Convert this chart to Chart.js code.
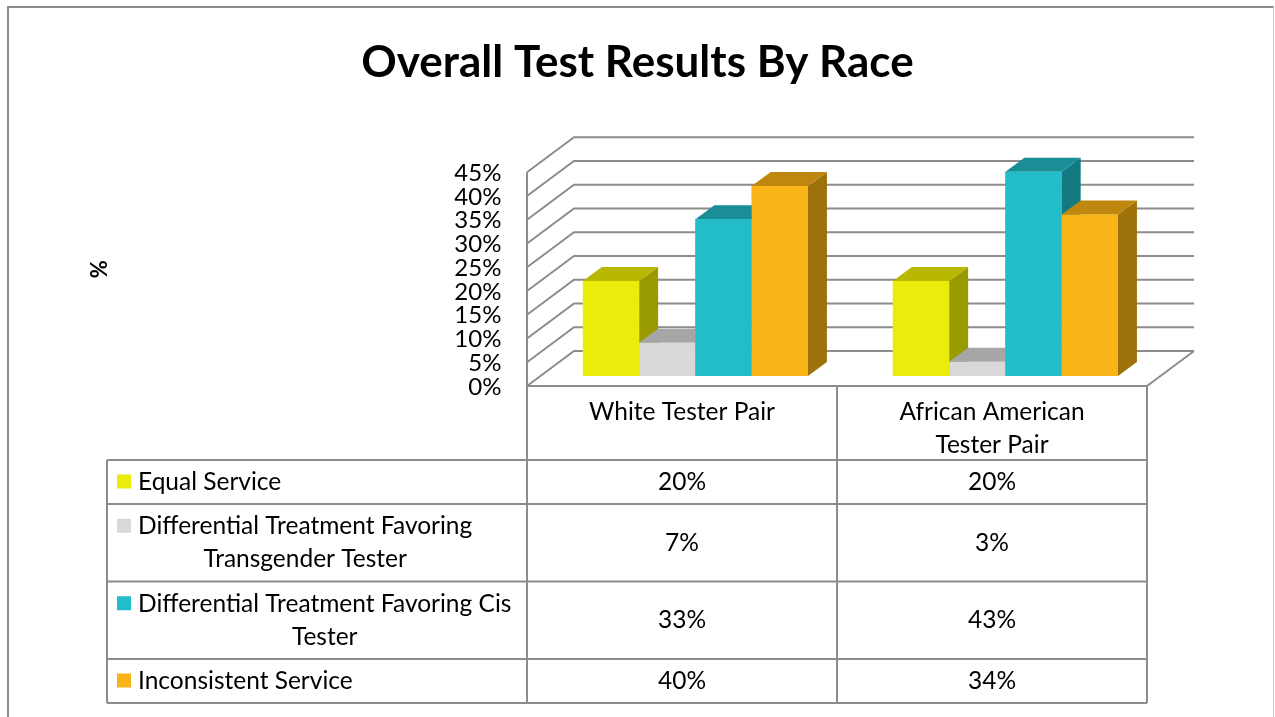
<!DOCTYPE html>
<html>
<head>
<meta charset="utf-8">
<script src="https://cdn.jsdelivr.net/npm/chart.js@4.4.1/dist/chart.umd.min.js"></script>
<style>
  html, body { margin: 0; padding: 0; background: #ffffff; }
  #wrap { position: relative; width: 1275px; height: 717px; }
</style>
</head>
<body>
<div id="wrap"><canvas id="c"></canvas></div>
<script>
// ---------- data ----------
const categories = [['White Tester Pair'], ['African American', 'Tester Pair']];
const seriesNames = [
  ['Equal Service'],
  ['Differential Treatment Favoring', 'Transgender Tester'],
  ['Differential Treatment Favoring Cis', 'Tester'],
  ['Inconsistent Service']
];
const equalService = [20, 20];
const favoringTransgender = [7, 3];
const favoringCis = [33, 43];
const inconsistentService = [40, 34];
const yMin = 0, yMax = 45, yStep = 5;

// ---------- styles ----------
const frontColors = ['#ECEC0C', '#D9D9D9', '#22BDC9', '#F9B418'];
const topColors   = ['#B8B800', '#A6A6A6', '#1A8E97', '#BF870F'];
const sideColors  = ['#999900', '#8C8C8C', '#127A80', '#9E720B'];
const GRID = '#8C8C8C';
const FRONT = { dx: -13.4, dy: 10 };   // front plane relative to bar plane
const BACK  = { dx: 33.6, dy: -25 };   // back wall relative to bar plane
const DEPTH = { dx: 19, dy: -14 };     // bar depth
const FONT = 'Lato';
const TABLE_FONT_SIZE = 24.5;
const TABLE_LEFT = 107;

const allSeries = [equalService, favoringTransgender, favoringCis, inconsistentService];

const threeD = {
  id: 'threeD',
  beforeDatasetsDraw(chart) {
    const { ctx, chartArea: { left, right }, scales: { y } } = chart;
    ctx.save();
    ctx.strokeStyle = GRID;
    ctx.lineWidth = 2;
    ctx.lineJoin = 'miter';
    y.ticks.forEach(t => {
      const py = y.getPixelForValue(t.value);
      ctx.beginPath();
      ctx.moveTo(left + FRONT.dx, py + FRONT.dy);
      ctx.lineTo(left + BACK.dx, py + BACK.dy);
      ctx.lineTo(right + BACK.dx, py + BACK.dy);
      ctx.stroke();
    });
    const y0 = y.getPixelForValue(y.min);
    const yT = y.getPixelForValue(y.max);
    ctx.beginPath();
    ctx.moveTo(left + FRONT.dx, yT + FRONT.dy);
    ctx.lineTo(left + FRONT.dx, y0 + FRONT.dy);
    ctx.lineTo(right + FRONT.dx, y0 + FRONT.dy);
    ctx.lineTo(right + BACK.dx, y0 + BACK.dy);
    ctx.stroke();
    ctx.restore();
  },
  afterDatasetsDraw(chart) {
    const { ctx } = chart;
    const n = chart.data.labels.length;
    ctx.save();
    for (let i = 0; i < n; i++) {
      chart.data.datasets.forEach((ds, d) => {
        const el = chart.getDatasetMeta(d).data[i];
        if (!el) return;
        const w = el.width, l = el.x - w / 2, r = el.x + w / 2, t = el.y, b = el.base;
        ctx.fillStyle = sideColors[d];
        ctx.beginPath();
        ctx.moveTo(r, t); ctx.lineTo(r + DEPTH.dx, t + DEPTH.dy);
        ctx.lineTo(r + DEPTH.dx, b + DEPTH.dy); ctx.lineTo(r, b);
        ctx.closePath(); ctx.fill();
        ctx.fillStyle = topColors[d];
        ctx.beginPath();
        ctx.moveTo(l, t); ctx.lineTo(l + DEPTH.dx, t + DEPTH.dy);
        ctx.lineTo(r + DEPTH.dx, t + DEPTH.dy); ctx.lineTo(r, t);
        ctx.closePath(); ctx.fill();
        ctx.fillStyle = frontColors[d];
        ctx.fillRect(l, t, w, b - t);
      });
    }
    ctx.restore();
  },
  afterDraw(chart) {
    const { ctx, chartArea: { left, right }, scales: { y } } = chart;
    const n = chart.data.labels.length;
    const cw = (right - left) / n;
    const x0 = left + FRONT.dx;
    const xEnd = right + FRONT.dx;
    const headTop = y.getPixelForValue(y.min) + FRONT.dy;
    const lineH = 33;
    const headH = 74;
    const rowTop0 = headTop + headH;
    const rowHeights = chart.data.datasets.map(ds => (ds.lines.length > 1 ? 77.5 : 44));
    const tableBottom = rowTop0 + rowHeights.reduce((a, b) => a + b, 0);

    ctx.save();
    ctx.strokeStyle = GRID;
    ctx.lineWidth = 2;
    for (let i = 0; i <= n; i++) {
      const x = x0 + i * cw;
      ctx.beginPath(); ctx.moveTo(x, headTop); ctx.lineTo(x, tableBottom); ctx.stroke();
    }
    ctx.beginPath(); ctx.moveTo(TABLE_LEFT, rowTop0); ctx.lineTo(TABLE_LEFT, tableBottom); ctx.stroke();
    let yy = rowTop0;
    ctx.beginPath(); ctx.moveTo(TABLE_LEFT, yy); ctx.lineTo(xEnd, yy); ctx.stroke();
    rowHeights.forEach(h => {
      yy += h;
      ctx.beginPath(); ctx.moveTo(TABLE_LEFT, yy); ctx.lineTo(xEnd, yy); ctx.stroke();
    });

    ctx.fillStyle = '#000';
    ctx.font = TABLE_FONT_SIZE + 'px ' + FONT;
    ctx.textBaseline = 'middle';
    ctx.textAlign = 'center';
    chart.data.labels.forEach((lab, i) => {
      const cx = x0 + i * cw + cw / 2;
      const lines = Array.isArray(lab) ? lab : [lab];
      lines.forEach((ln, k) => ctx.fillText(ln, cx, headTop + 26 + k * lineH));
    });
    let rt = rowTop0;
    chart.data.datasets.forEach((ds, d) => {
      const h = rowHeights[d];
      const mid = rt + h / 2;
      const lines = ds.lines;
      const firstY = mid - (lines.length - 1) * lineH / 2;
      ctx.fillStyle = frontColors[d];
      ctx.fillRect(117, firstY - 7.5, 14, 14);
      ctx.fillStyle = '#000';
      if (lines.length === 1) {
        ctx.textAlign = 'left';
        ctx.fillText(lines[0], 138, firstY);
      } else {
        const bw = Math.max(...lines.map(l => ctx.measureText(l).width));
        ctx.textAlign = 'center';
        lines.forEach((ln, k) => ctx.fillText(ln, 138 + bw / 2, firstY + k * lineH));
      }
      ctx.textAlign = 'center';
      ds.data.forEach((v, i) => {
        ctx.fillText(v + '%', x0 + i * cw + cw / 2, mid);
      });
      rt += h;
    });

    ctx.strokeStyle = GRID;
    ctx.lineWidth = 2;
    ctx.beginPath();
    ctx.moveTo(8, 740); ctx.lineTo(8, 7); ctx.lineTo(1274, 7);
    ctx.stroke();
    ctx.strokeStyle = '#C8C8C8';
    ctx.lineWidth = 1;
    ctx.beginPath(); ctx.moveTo(1273.5, 7); ctx.lineTo(1273.5, 717); ctx.stroke();
    ctx.restore();
  }
};

new Chart(document.getElementById('c'), {
  type: 'bar',
  data: {
    labels: categories,
    datasets: allSeries.map((vals, d) => ({
      label: seriesNames[d].join(' '),
      lines: seriesNames[d],
      data: vals,
      backgroundColor: frontColors[d],
      borderWidth: 0,
      barPercentage: 1,
      categoryPercentage: 0.726
    }))
  },
  options: {
    responsive: true,
    maintainAspectRatio: false,
    animation: false,
    layout: { padding: { top: 0, left: 0, right: 0, bottom: 341 } },
    plugins: {
      legend: { display: false },
      tooltip: { enabled: false },
      title: {
        display: true,
        text: 'Overall Test Results By Race',
        color: '#000',
        font: { family: FONT, size: 44, weight: 'bold', lineHeight: 1.2 },
        padding: { top: 36.6, bottom: 72.85 }
      }
    },
    scales: {
      x: { display: false },
      y: {
        min: yMin, max: yMax,
        afterFit(scale) { scale.width = 540.4; },
        grid: { display: false, drawTicks: false },
        border: { display: false },
        ticks: {
          stepSize: yStep,
          autoSkip: false,
          padding: 39,
          labelOffset: 11,
          color: '#000',
          font: { family: FONT, size: 24 },
          callback: v => v + '%'
        },
        title: {
          display: true, text: '%', color: '#000',
          font: { family: FONT, size: 22, weight: 'bold' },
          padding: { top: 87, bottom: 0 }
        }
      },
      yRight: {
        position: 'right',
        min: yMin, max: yMax,
        afterFit(scale) { scale.width = 114.6; },
        grid: { display: false, drawTicks: false },
        border: { display: false },
        ticks: { display: false }
      }
    }
  },
  plugins: [threeD]
});
</script>
</body>
</html>
